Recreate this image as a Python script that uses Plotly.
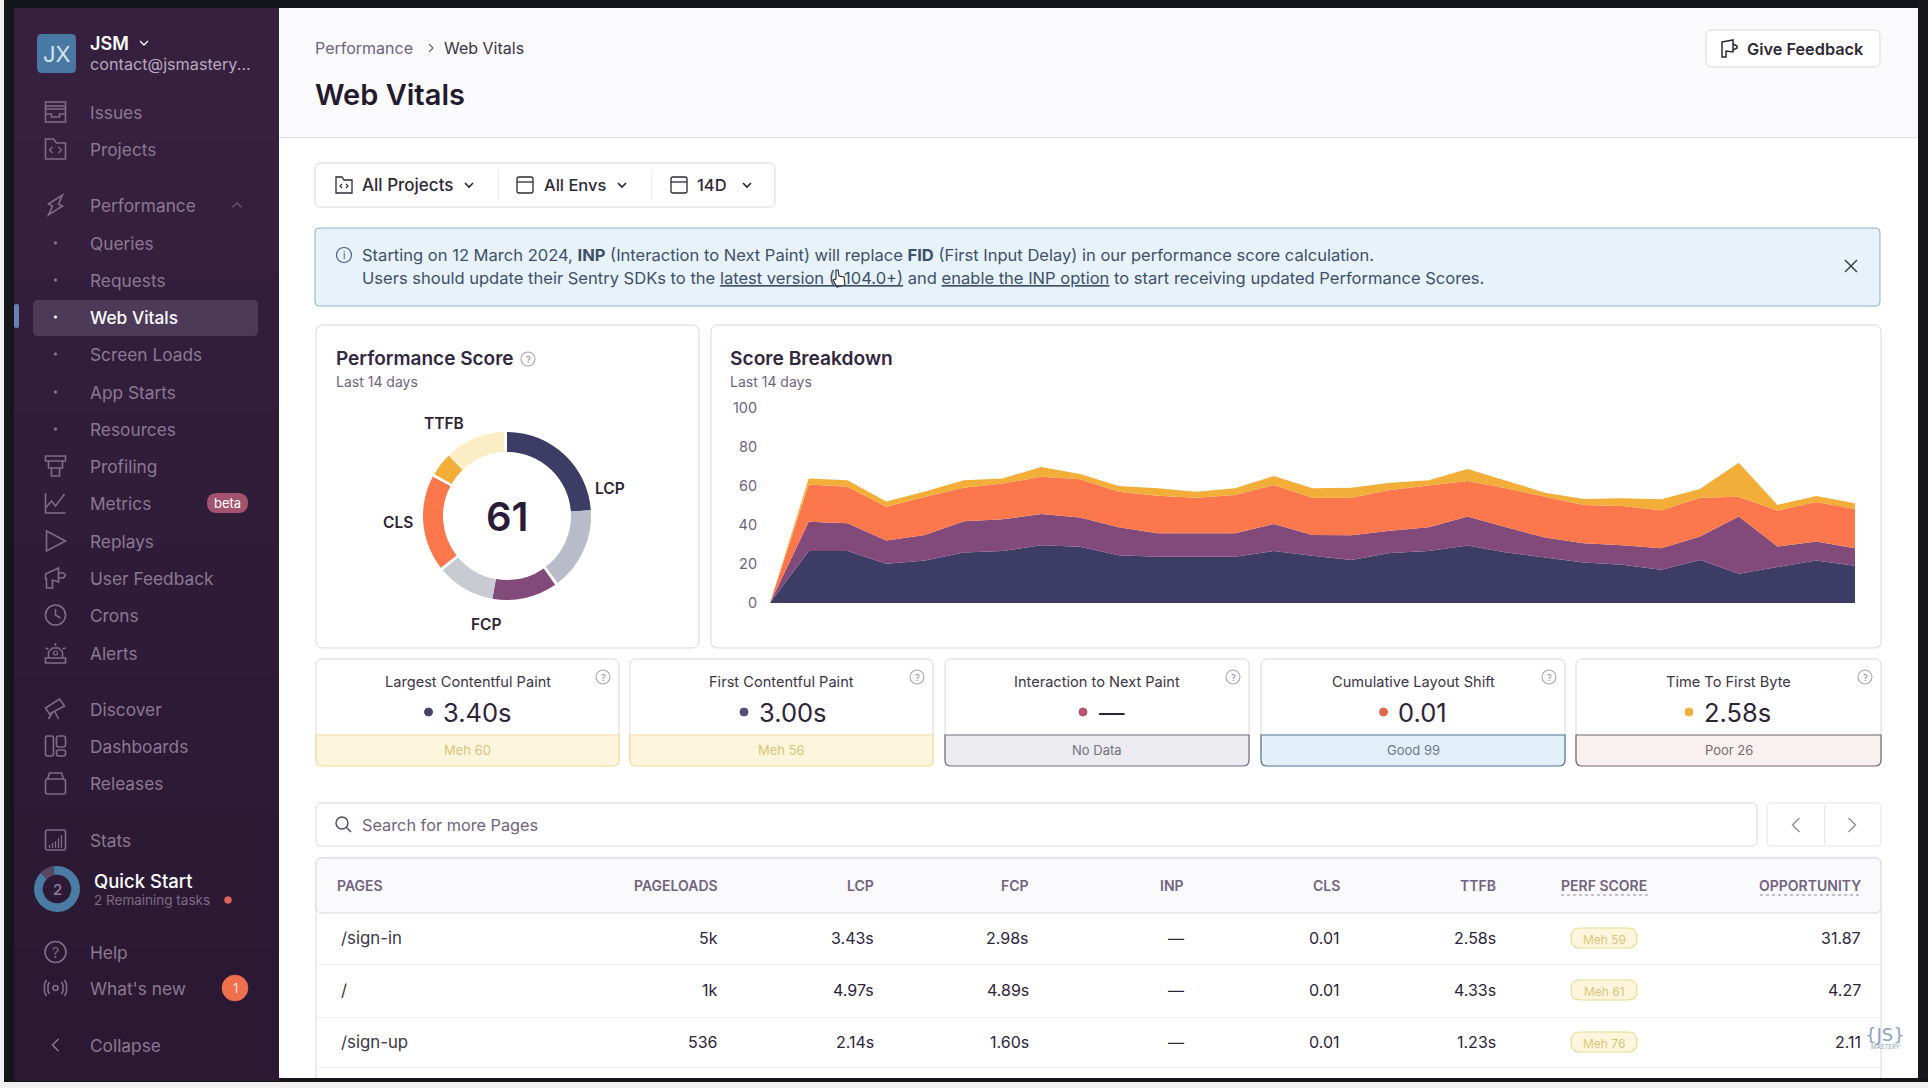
import plotly.graph_objects as go

# Score breakdown series, one value per half day
days = list(range(29))
lcp_scores = [0, 26.7, 26.7, 20.1, 21.8, 25.9, 26.7, 29.6, 28.8, 24.5, 23.7, 23.7, 23.7, 26.7, 24.2, 22.1, 25.6, 26.7, 29.5, 25.9, 23.5, 20.8, 19.6, 17.0, 22.1, 15.0, 18.4, 21.8, 19.1]
fcp_scores = [0, 15.0, 14.2, 11.9, 13.1, 16.0, 16.2, 16.1, 15.0, 14.3, 12.1, 12.1, 12.1, 13.8, 10.7, 12.7, 11.5, 12.1, 14.8, 12.9, 10.1, 9.9, 10.0, 11.1, 12.0, 29.3, 10.6, 9.7, 9.0]
cls_scores = [0, 19.1, 18.7, 17.4, 19.6, 17.2, 18.4, 19.0, 19.6, 18.3, 19.2, 18.2, 19.6, 20.0, 19.1, 19.2, 20.8, 21.3, 18.2, 20.0, 20.9, 19.6, 20.1, 19.4, 19.9, 10.2, 18.4, 20.3, 20.1]
ttfb_scores = [0, 3.1, 3.3, 2.7, 2.7, 3.8, 2.6, 5.1, 2.7, 2.9, 3.9, 3.1, 3.4, 4.6, 4.9, 5.1, 3.8, 2.9, 6.2, 3.7, 2.1, 3.0, 4.0, 5.7, 4.4, 17.4, 2.9, 3.1, 2.9]
score_ticks = [0, 20, 40, 60, 80, 100]

# Ring: earned part and remainder of every vital, in degrees, with thin gaps
ring_names = ["LCP", "LCP rest", "gap", "FCP", "FCP rest", "gap", "CLS", "gap", "TTFB", "TTFB rest", "gap"]
ring_values = [86, 57, 2, 45, 40, 2, 66, 2, 16, 42, 2]
ring_score = "61"
quick_start_values = [325, 35]

# Vital cards
card_titles = ["Largest Contentful Paint", "First Contentful Paint", "Interaction to Next Paint", "Cumulative Layout Shift", "Time To First Byte"]
card_values = ["3.40s", "3.00s", "—", "0.01", "2.58s"]
card_bands = ["Meh 60", "Meh 56", "No Data", "Good 99", "Poor 26"]

# Table
table_headers = ["PAGELOADS", "LCP", "FCP", "INP", "CLS", "TTFB"]
table_pages = ["/sign-in", "/", "/sign-up"]
table_pageloads = ["5k", "1k", "536"]
table_lcp = ["3.43s", "4.97s", "2.14s"]
table_fcp = ["2.98s", "4.89s", "1.60s"]
table_inp = ["—", "—", "—"]
table_cls = ["0.01", "0.01", "0.01"]
table_ttfb = ["2.58s", "4.33s", "1.23s"]
table_perf = ["Meh 59", "Meh 61", "Meh 76"]
table_opportunity = ["31.87", "4.27", "2.11"]

# Sidebar
nav_items = ["Issues", "Projects", "Performance", "Queries", "Requests", "Web Vitals", "Screen Loads", "App Starts", "Resources", "Profiling", "Metrics", "Replays", "User Feedback", "Crons", "Alerts", "Discover", "Dashboards", "Releases", "Stats", "Help", "What's new", "Collapse"]
nav_y = [112, 149, 205, 243, 280, 317, 354, 392, 429, 466, 503, 541, 578, 615, 653, 709, 746, 783, 840, 952, 988, 1045]

W, H = 1928, 1088
FONT = "Inter"
INK = "#2b1d38"
MUTED = "#71637e"
BORDER = "#dbd6e1"
NAV = "#8b7993"
NAV_ICON = "#7f6c88"

shapes = []
notes = []


def text(x, y, s, size=15, color=INK, anchor="left", weight=400, font=FONT):
    notes.append(dict(x=x, y=y, xref="x", yref="y", text=s, showarrow=False, xanchor=anchor, yanchor="middle",
                      borderpad=0, borderwidth=0, font=dict(family=font, size=size, color=color, weight=weight)))


def rrect(x0, y0, x1, y1, r=0, fill=None, line=None, lw=1, bottom_only=False, layer="below"):
    top = r if not bottom_only else 0
    p = (f"M{x0 + top},{y0} L{x1 - top},{y0} Q{x1},{y0} {x1},{y0 + top} L{x1},{y1 - r} Q{x1},{y1} {x1 - r},{y1} "
         f"L{x0 + r},{y1} Q{x0},{y1} {x0},{y1 - r} L{x0},{y0 + top} Q{x0},{y0} {x0 + top},{y0} Z")
    shapes.append(dict(type="path", path=p, xref="x", yref="y", layer=layer, fillcolor=fill or "rgba(0,0,0,0)",
                       line=dict(color=line or "rgba(0,0,0,0)", width=lw if line else 0)))


def box(x0, y0, x1, y1, fill):
    shapes.append(dict(type="rect", x0=x0, y0=y0, x1=x1, y1=y1, xref="x", yref="y", layer="below",
                       fillcolor=fill, line=dict(width=0)))


def stroke(cx, cy, pts, color=NAV_ICON, lw=1.6, close=False, fill=None):
    # polyline given relative to the icon centre
    p = "M" + " L".join(f"{cx + a},{cy + b}" for a, b in pts) + (" Z" if close else "")
    shapes.append(dict(type="path", path=p, xref="x", yref="y", layer="above", fillcolor=fill or "rgba(0,0,0,0)",
                       line=dict(color=color, width=lw)))


def ring(cx, cy, r, color=NAV_ICON, lw=1.6, fill=None):
    shapes.append(dict(type="circle", x0=cx - r, x1=cx + r, y0=cy - r, y1=cy + r, xref="x", yref="y", layer="above",
                       fillcolor=fill or "rgba(0,0,0,0)", line=dict(color=color, width=lw)))


def help_icon(cx, cy):
    ring(cx, cy, 7, "#a9a3b5", 1.1)
    text(cx, cy, "?", 9.5, "#8f889c", "center")


def chevron(cx, cy, s=4, color=INK, lw=1.6, way="down"):
    pts = {"down": [(-s, -s / 2), (0, s / 2), (s, -s / 2)], "up": [(-s, s / 2), (0, -s / 2), (s, s / 2)],
           "left": [(s / 2, -s), (-s / 2, 0), (s / 2, s)], "right": [(-s / 2, -s), (s / 2, 0), (-s / 2, s)]}[way]
    stroke(cx, cy, pts, color, lw)


# Screen frame
box(0, 0, W, H, "#f1f1f1")
box(4, 0, W, 8, "#14151a")
box(4, 0, 14, 1082, "#14171a")
box(1918, 0, W, 1082, "#17181c")
box(4, 1078, W, 1082, "#14151a")
rrect(279, 8, 1918, 1078, 6, "#ffffff")

# Sidebar background, slightly lighter at the top
side_cols = ["#371f40", "#351e3e", "#331d3c", "#311c3a", "#2f1b38", "#2d1a36", "#2c1a35", "#2b1934"]
for i, c in enumerate(side_cols):
    box(14, 8 + i * 134, 279, 8 + (i + 1) * 134 + 1, c)

# Page header
box(279, 8, 1918, 137, "#faf9fb")
box(279, 137, 1918, 138, "#e2dee6")
text(315, 48, "Performance", 16, MUTED)
chevron(431, 48, 4, MUTED, 1.2, "right")
text(444, 48, "Web Vitals", 16, "#3e3446")
text(315, 94, "Web Vitals", 29, "#241a2f", weight=600)
rrect(1706, 30, 1880, 67, 6, "#ffffff", BORDER)
text(1747, 49, "Give Feedback", 16.3, "#2f2936", weight=600)
stroke(1729, 48, [(-7, -6), (4, -8), (4, 4), (-3, 3), (-3, 9), (-7, 9)], "#2f2936", 1.5, True)
stroke(1729, 48, [(4, -4), (8, -2), (8, 0), (4, 2)], "#2f2936", 1.5)

# Filter buttons
rrect(315, 163, 775, 207, 6, "#ffffff", BORDER)
box(498, 170, 499, 200, "#ece9ef")
box(651, 170, 652, 200, "#ece9ef")
text(362, 185, "All Projects", 17, "#2f2936", weight=500)
text(544, 185, "All Envs", 16.5, "#2f2936", weight=500)
text(697, 185, "14D", 16.5, "#2f2936", weight=500)
chevron(469, 185, 4)
chevron(622, 185, 4)
chevron(747, 185, 4)
stroke(344, 185, [(-8, -8), (-2, -8), (0, -5), (8, -5), (8, 8), (-8, 8)], "#2f2936", 1.3, True)
stroke(344, 186, [(-2, -2), (-4, 0), (-2, 2)], "#2f2936", 1.1)
stroke(344, 186, [(2, -2), (4, 0), (2, 2)], "#2f2936", 1.1)
for x in [525, 679]:
    rrect(x - 8, 177, x + 8, 193, 2, None, "#2f2936", 1.3, layer="above")
    stroke(x, 182, [(-8, 0), (8, 0)], "#2f2936", 1.3)

# Notice banner
rrect(315, 228, 1880, 306, 4, "#e7f2fa", "#8fb0c9")
ring(344, 255, 7.5, "#47607a", 1.2)
text(344, 255, "i", 10, "#47607a", "center")
BLUE_TEXT = "#3e5069"
UL = '<span style="text-decoration:underline">%s</span>'
text(362, 255, "Starting on 12 March 2024, <b>INP</b> (Interaction to Next Paint) will replace <b>FID</b> (First Input Delay) in our performance score calculation.", 16.55, BLUE_TEXT)
text(362, 278, "Users should update their Sentry SDKs to the " + UL % "latest version (\u00a0\u00a0104.0+)" + " and " + UL % "enable the INP option" + " to start receiving updated Performance Scores.", 16.55, BLUE_TEXT)
stroke(1851, 266, [(-6, -6), (6, 6)], "#33404f", 1.5)
stroke(1851, 266, [(-6, 6), (6, -6)], "#33404f", 1.5)
# mouse cursor
stroke(839, 279, [(-3, -9), (-1, -9), (0, -3), (5, -2), (6, 6), (-2, 8), (-6, 1), (-3, 0)], "#222222", 1.1, True, "#ffffff")

# Chart cards
rrect(316, 325, 699, 648, 7, "#ffffff", BORDER)
rrect(711, 325, 1881, 648, 7, "#ffffff", BORDER)
text(336, 358, "Performance Score", 19, "#33273f", weight=600)
help_icon(528, 359)
text(336, 381, "Last 14 days", 14, MUTED)
text(730, 358, "Score Breakdown", 19.2, "#33273f", weight=600)
text(730, 381, "Last 14 days", 14, MUTED)
text(444, 423, "TTFB", 15.5, "#2f2438", "center", 600)
text(610, 488, "LCP", 15.5, "#2f2438", "center", 600)
text(398, 522, "CLS", 15.5, "#2f2438", "center", 600)
text(486, 624, "FCP", 15.5, "#2f2438", "center", 600)
text(507, 516, ring_score, 40, "#2b1d38", "center", 600)

# Vital cards
card_x = [(316, 619), (630, 933), (945, 1249), (1261, 1565), (1576, 1881)]
dot_cols = ["#444566", "#50507a", "#b5566b", "#e2664a", "#f0b040"]
band_fill = ["#fdf6dc", "#fdf6dc", "#ecebef", "#e3f0f9", "#f9f1f0"]
band_line = ["#efdc9e", "#efdc9e", "#6f6b7c", "#4e7290", "#74606a"]
band_text = ["#d8c47d", "#d8c47d", "#76707f", "#6f7a88", "#776a72"]
dot_dx = [-39, -37.5, -14, -29.5, -39.5]
val_dx = [-24.5, -22.5, 2, -15, -24.5]
for i, (x0, x1) in enumerate(card_x):
    mid = (x0 + x1) / 2
    rrect(x0, 659, x1, 765, 6, "#ffffff", BORDER)
    rrect(x0, 735, x1, 766, 6, band_fill[i], band_line[i], 1.2, bottom_only=True)
    text(mid, 682, card_titles[i], 14.6, "#3e3446", "center")
    help_icon(x1 - 16, 677)
    ring(mid + dot_dx[i], 712, 4, dot_cols[i], 1, dot_cols[i])
    text(mid + val_dx[i], 712, card_values[i], 25.5, "#2e2339", "left")
    text(mid, 750, card_bands[i], 13, band_text[i], "center")

# Search and pager
rrect(316, 803, 1757, 846, 5, "#ffffff", BORDER)
ring(342, 823, 6, "#52475c", 1.4)
stroke(342, 823, [(4.5, 4.5), (9, 9)], "#52475c", 1.4)
text(362, 825, "Search for more Pages", 16.3, MUTED)
rrect(1767, 803, 1881, 846, 5, "#ffffff", "#e6e3ea")
box(1824, 805, 1825, 844, "#e6e3ea")
chevron(1796, 825, 7, "#8f889c", 1.3, "left")
chevron(1852, 825, 7, "#8f889c", 1.3, "right")

# Table frame, cut off by the bottom of the screen
rrect(316, 858, 1881, 1100, 6, "#ffffff", BORDER)
rrect(316, 858, 1881, 913, 6, "#faf9fb", BORDER)
box(279, 1078, 1918, 1082, "#14151a")
box(279, 1082, W, H, "#f1f1f1")
for y in [964, 1017, 1067]:
    box(317, y, 1880, y + 1, "#efedf1")

columns = [table_pageloads, table_lcp, table_fcp, table_inp, table_cls, table_ttfb]
col_right = [718, 874, 1029, 1184, 1340, 1496]
row_y = [938, 990, 1042]
text(337, 885, "PAGES", 14, MUTED, weight=600)
for name, x in zip(table_headers, col_right):
    text(x, 885, name, 14, MUTED, "right", 600)
text(1604, 885, "PERF SCORE", 14, MUTED, "center", 600)
text(1861, 885, "OPPORTUNITY", 14, MUTED, "right", 600)
shapes.append(dict(type="line", x0=1561, x1=1648, y0=895, y1=895, xref="x", yref="y", layer="above", line=dict(color="#8f889c", width=1, dash="dot")))
shapes.append(dict(type="line", x0=1760, x1=1861, y0=895, y1=895, xref="x", yref="y", layer="above", line=dict(color="#8f889c", width=1, dash="dot")))
for r in range(3):
    text(341, row_y[r], table_pages[r], 16.8, "#3e3446")
    for col, x in zip(columns, col_right):
        text(x, row_y[r], col[r], 16, "#2e2339", "right")
    rrect(1571, row_y[r] - 10, 1637, row_y[r] + 10, 9, "#fdf6dc", "#ecd894", 1.2)
    text(1604, row_y[r] + 1, table_perf[r], 12, "#d8c47d", "center")
    text(1861, row_y[r], table_opportunity[r], 16, "#2e2339", "right")

# Watermark
text(1885, 1034, "{JS}", 18, "#8aa3bd", "center", font="DejaVu Sans")
text(1885, 1046, "MASTERY", 6, "#8aa3bd", "center")

# Sidebar content
rrect(37, 34, 76, 73, 5, "#4a78a4")
text(56.5, 54, "JX", 22, "#d5e6f3", "center")
text(90, 43, "JSM", 18, "#ffffff", weight=600)
chevron(144, 43, 4, "#ffffff", 1.4)
text(90, 64, "contact@jsmastery...", 16.2, "#b6a9bc")
rrect(33, 300, 258, 336, 5, "#4d3958")
rrect(14, 304, 19, 328, 2, "#6c7fb5")
for name, y in zip(nav_items, nav_y):
    text(90, y, name, 17.3, "#ffffff" if name == "Web Vitals" else NAV, weight=500 if name == "Web Vitals" else 400)
for y in [243, 280, 317, 354, 392, 429]:
    c = "#ffffff" if y == 317 else NAV
    ring(55.5, y, 1.3, c, 0.6, c)
chevron(237, 205, 4.5, "#6f5d79", 1.2, "up")

# Sidebar icons
ic = 55.5
stroke(ic, 112, [(-10, -3), (-10, 10), (10, 10), (10, -3)], close=True)
stroke(ic, 112, [(-10, -3), (-10, -10), (10, -10), (10, -3)])
stroke(ic, 112, [(-10, -6), (10, -6)])
stroke(ic, 112, [(-10, 2), (-4, 2), (-4, 5), (4, 5), (4, 2), (10, 2)])
stroke(ic, 149, [(-10, -10), (-2, -10), (1, -6), (10, -6), (10, 10), (-10, 10)], close=True)
stroke(ic, 150, [(-3, -3), (-6, 0), (-3, 3)], lw=1.3)
stroke(ic, 150, [(3, -3), (6, 0), (3, 3)], lw=1.3)
stroke(ic, 205, [(7, -10), (-7, -1), (-3, 1), (-7, 10), (7, 1), (3, -1)], close=True)
stroke(ic, 466, [(-10, -10), (10, -10), (10, -5), (-10, -5)], close=True)
stroke(ic, 466, [(-7, -5), (-7, 2), (7, 2), (7, -5)])
stroke(ic, 466, [(-4, 2), (-4, 10), (4, 10), (4, 2)])
stroke(ic, 503, [(-10, -10), (-10, 10), (10, 10)])
stroke(ic, 503, [(-10, 5), (-4, -2), (0, 3), (9, -9)])
stroke(ic, 541, [(-9, -10), (10, 0), (-9, 10)], close=True)
stroke(ic, 578, [(-10, -4), (3, -10), (3, 4), (-3, 2), (-3, 10), (-9, 10), (-9, 1), (-10, 1)], close=True)
stroke(ic, 578, [(3, -5), (8, -5), (10, -3), (8, 0), (3, 0)])
ring(ic, 615, 10)
stroke(ic, 615, [(0, -6), (0, 0), (5, 3)])
stroke(ic, 653, [(-10, 10), (10, 10), (10, 5), (-10, 5)], close=True)
stroke(ic, 653, [(-7, 5), (-7, -1), (-3, -5), (3, -5), (7, -1), (7, 5)])
stroke(ic, 653, [(-10, -5), (-7, -4)])
stroke(ic, 653, [(10, -5), (7, -4)])
stroke(ic, 653, [(0, -10), (0, -7)])
ring(ic, 653, 2, lw=1.2)
stroke(ic, 709, [(-10, -1), (4, -10), (9, -3), (-6, 5)], close=True)
stroke(ic, 709, [(-3, 3), (-7, 10)])
stroke(ic, 709, [(-1, 2), (3, 10)])
rrect(ic - 10, 736, ic - 2, 756, 2, None, NAV_ICON, 1.6, layer="above")
rrect(ic + 1, 736, ic + 10, 747, 2, None, NAV_ICON, 1.6, layer="above")
rrect(ic + 1, 750, ic + 10, 756, 2, None, NAV_ICON, 1.6, layer="above")
rrect(ic - 10, 779, ic + 10, 794, 2, None, NAV_ICON, 1.6, layer="above")
stroke(ic, 783, [(-8, -4), (-6, -10), (6, -10), (8, -4)])
rrect(ic - 10, 830, ic + 10, 850, 2, None, NAV_ICON, 1.6, layer="above")
for a, b in [(-6, 5), (-3, 3), (0, 1), (3, -2), (6, -5)]:
    stroke(ic, 840, [(a, 8), (a, b)], lw=1.3)
ring(ic, 952, 10.5)
text(ic, 952, "?", 14, NAV_ICON, "center")
ring(ic, 988, 2.5)
for s in [-1, 1]:
    stroke(ic, 988, [(s * 6, -6), (s * 7.5, -3), (s * 7.5, 3), (s * 6, 6)])
    stroke(ic, 988, [(s * 9, -8), (s * 11, -4), (s * 11, 4), (s * 9, 8)])
chevron(ic, 1045, 6, NAV, 1.5, "left")

# Beta pill and badges
rrect(207, 493, 248, 513, 10, "#a2546e")
text(227.5, 503, "beta", 13, "#ffffff", "center")
ring(235, 988, 13, "#ef704c", 0.5, "#ef704c")
text(235, 988, "1", 13, "#fbe6de", "center")
text(94, 881, "Quick Start", 18.5, "#ffffff", weight=500)
text(94, 900, "2 Remaining tasks", 13.5, "#7d6b86")
ring(228, 900, 3.5, "#e0635b", 0.5, "#e0635b")
text(57, 889, "2", 15, "#8b7993", "center", 600)

fig = go.Figure()

# invisible trace so the page axes exist
fig.add_trace(go.Scatter(x=[], y=[], xaxis="x", yaxis="y", showlegend=False))

area_series = [("LCP", lcp_scores, "#3c3c64"), ("FCP", fcp_scores, "#824a7b"), ("CLS", cls_scores, "#fc784c"), ("TTFB", ttfb_scores, "#f2ae38")]
for name, vals, col in area_series:
    fig.add_trace(go.Scatter(x=days, y=vals, name=name, mode="lines", stackgroup="score", xaxis="x2", yaxis="y2",
                             line=dict(width=0, color=col), fillcolor=col, hoverinfo="skip", showlegend=False))

ring_colors = ["#3c3c64", "#b9bcc8", "#ffffff", "#824a7b", "#c9cbd3", "#ffffff", "#fc784c", "#ffffff", "#f2ae38", "#fbedc4", "#ffffff"]
cx, cy, outer = 507, 516, 84
fig.add_trace(go.Pie(labels=[f"{n}{i}" for i, n in enumerate(ring_names)], values=ring_values, sort=False, direction="clockwise", rotation=0,
                     hole=64 / 84, textinfo="none", hoverinfo="skip", showlegend=False, marker=dict(colors=ring_colors, line=dict(width=0)),
                     domain=dict(x=[(cx - outer) / W, (cx + outer) / W], y=[1 - (cy + outer) / H, 1 - (cy - outer) / H])))
qx, qy, qr = 57, 889, 23
fig.add_trace(go.Pie(labels=["done", "left"], values=quick_start_values, sort=False, direction="clockwise", rotation=-10,
                     hole=0.62, textinfo="none", hoverinfo="skip", showlegend=False, marker=dict(colors=["#4a7ba3", "#5a4763"], line=dict(width=0)),
                     domain=dict(x=[(qx - qr) / W, (qx + qr) / W], y=[1 - (qy + qr) / H, 1 - (qy - qr) / H])))

fig.update_layout(
    width=W, height=H, autosize=False,
    margin=dict(l=0, r=0, t=0, b=0, pad=0, autoexpand=False),
    paper_bgcolor="#f1f1f1", plot_bgcolor="rgba(0,0,0,0)",
    font=dict(family=FONT),
    hovermode=False, dragmode=False,
    shapes=shapes, annotations=notes,
    xaxis=dict(domain=[0, 1], range=[0, W], visible=False, fixedrange=True),
    yaxis=dict(domain=[0, 1], range=[H, 0], visible=False, fixedrange=True),
    xaxis2=dict(domain=[770 / W, 1855 / W], range=[0, 28], visible=False, fixedrange=True, anchor="y2"),
    yaxis2=dict(domain=[1 - 603 / H, 1 - 408 / H], range=[0, 100], tickvals=score_ticks, ticks="outside", ticklen=9, tickcolor="rgba(0,0,0,0)",
                showgrid=False, zeroline=False, showline=False, fixedrange=True, anchor="x2",
                tickfont=dict(family=FONT, size=14.5, color=MUTED)),
)

fig.write_html("out.html", config=dict(displayModeBar=False), post_script="document.body.style.margin='0';document.body.style.overflow='hidden';")
